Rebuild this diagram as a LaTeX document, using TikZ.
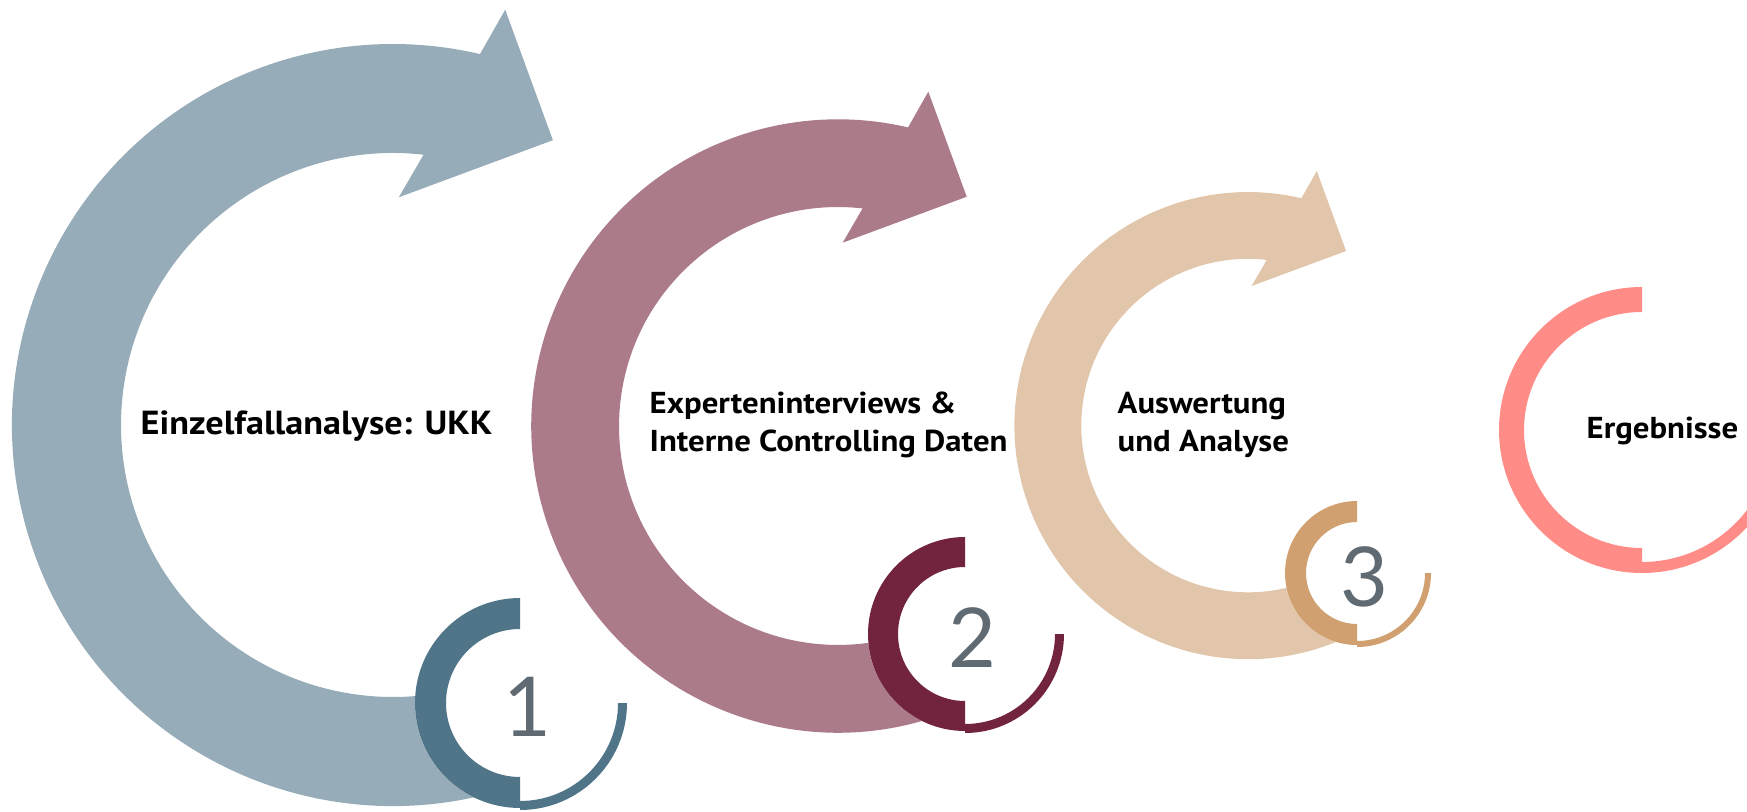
\documentclass[tikz,border=0pt]{standalone}
\usepackage{fontspec}
\setmainfont{PT Sans}[FakeStretch=1.085]
\newfontfamily\numfont{Lato}
\definecolor{arrowA}{HTML}{97ACB9}
\definecolor{arrowB}{HTML}{AB7B8A}
\definecolor{arrowC}{HTML}{E2C6AB}
\definecolor{ringD}{HTML}{FF8C87}
\definecolor{dotA}{HTML}{507588}
\definecolor{dotB}{HTML}{72233E}
\definecolor{dotC}{HTML}{D0A070}
\definecolor{numgray}{HTML}{5F6A72}
\tikzstyle{cycletext} = [inner sep=0pt, text=black, font=\bfseries\fontsize{8.6}{10.7}\selectfont]

\begin{document}
\begin{tikzpicture}
		[
		digit/.style={
		inner sep=0pt,
		text=numgray,
		font=\numfont\fontsize{23.5}{24}\selectfont}
		]
		\useasboundingbox (0,0) rectangle (17.47,8.11);
		\foreach \cx/\cy/\s/\a/\col in {3.93/3.86/1/-72/arrowA, 8.38/3.85/0.805/-70/arrowB, 12.48/3.854/0.613/-65/arrowC}
		{
		\begin{scope}[shift={(\cx,\cy)},scale=\s]
		\fill[\col] (\a:3.81) arc[start angle=\a,end angle=-283.2,radius=3.81]
		-- (1.122,4.153) -- (1.599,2.848) -- (0.058,2.277)
		-- (-276.45:2.72) arc[start angle=-276.45,end angle=\a,radius=2.72] -- cycle;
		\end{scope}
		}
		\begin{scope}[shift={(16.42,3.81)}]
		\fill[ringD] (90:1.43) arc[start angle=90,end angle=270,radius=1.43] -- (270:1.18) arc[start angle=270,end angle=90,radius=1.18] -- cycle;
		\fill[ringD] (270:1.43) arc[start angle=270,end angle=350,radius=1.43] -- (350:1.32) arc[start angle=350,end angle=270,radius=1.32] -- cycle;
		\end{scope}
		\foreach \name/\cx/\cy/\R/\r/\w/\col/\num in {one/5.20/1.08/1.05/0.74/0.09/dotA/1, two/9.65/1.77/0.97/0.67/0.09/dotB/2, three/13.57/2.38/0.72/0.51/0.06/dotC/3}
		{
		\begin{scope}[shift={(\cx,\cy)}]
		\fill[white] (0,0) circle (\R);
		\fill[\col] (90:\R) arc[start angle=90,end angle=270,radius=\R] -- (270:\r) arc[start angle=270,end angle=90,radius=\r] -- cycle;
		\fill[\col] (0:{\R+0.02}) arc[start angle=0,end angle=-90,radius={\R+0.02}] -- (270:{\R+0.02-\w}) arc[start angle=-90,end angle=0,radius={\R+0.02-\w}] -- cycle;
		\end{scope}
		\node[digit] (num_\name) at ({\cx+0.07},{\cy-0.04}) {\num};
		}
		\node[cycletext,anchor=base west,font=\bfseries\fontsize{9.5}{11}\selectfont] (text_one) at (1.40,3.76) {Einzelfallanalyse: UKK};
		\node[cycletext,anchor=west,align=left] (text_two) at (6.49,3.86) {Experteninterviews \&\\Interne Controlling Daten};
		\node[cycletext,anchor=west,align=left] (text_three) at (11.17,3.86) {Auswertung\\und Analyse};
		\node[cycletext,anchor=base west] (text_four) at (15.86,3.727) {Ergebnisse};
\end{tikzpicture}
\end{document}
